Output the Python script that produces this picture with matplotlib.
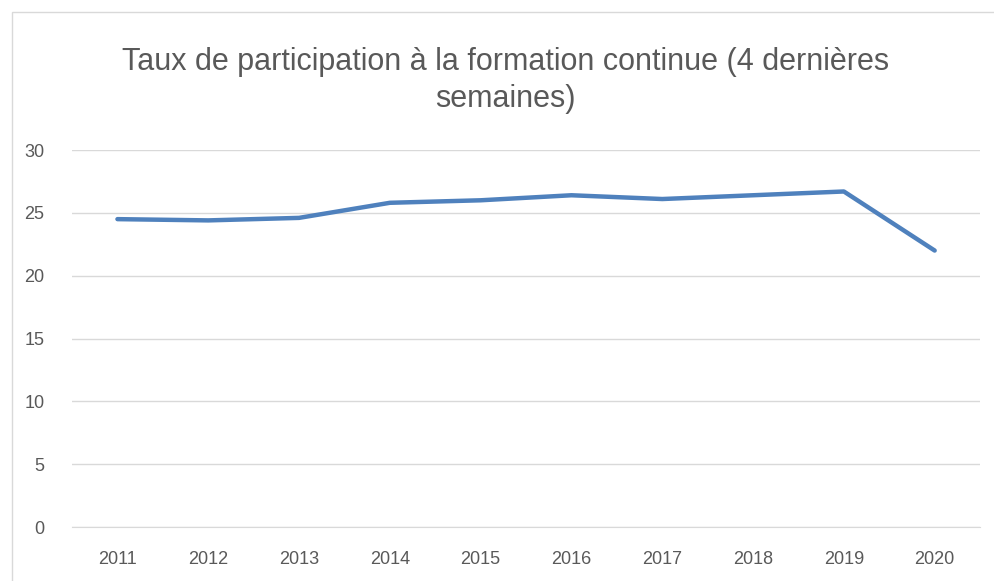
import matplotlib.pyplot as plt
from matplotlib.patches import Rectangle

years = ['2011', '2012', '2013', '2014', '2015', '2016', '2017', '2018', '2019', '2020']
taux = [24.5, 24.4, 24.6, 25.8, 26.0, 26.4, 26.1, 26.4, 26.7, 22.0]
yticks = [0, 5, 10, 15, 20, 25, 30]

plt.rcParams['font.family'] = ['Liberation Sans', 'DejaVu Sans']

fig = plt.figure(figsize=(9.95, 5.81), dpi=100)
ax = fig.add_axes([0.0724, 0.0929, 0.9126, 0.6489])

# outer chart border
fig.patches.append(Rectangle((12 / 995, -0.01), 1.0, 1 - 12 / 581 + 0.01,
                             transform=fig.transFigure, fill=False,
                             edgecolor='#d9d9d9', linewidth=1))

x = range(len(years))
ax.plot(x, taux, color='#4f81bd', linewidth=3.2, solid_capstyle='round',
        solid_joinstyle='round')

ax.set_xlim(-0.5, len(years) - 0.5)
ax.set_ylim(0, 30)
ax.set_yticks(yticks)
ax.set_xticks(list(x))
ax.set_xticklabels(years)
ax.grid(axis='y', color='#d9d9d9', linewidth=1)
ax.set_axisbelow(True)
for s in ['top', 'right', 'left']:
    ax.spines[s].set_visible(False)
ax.spines['bottom'].set_color('#d9d9d9')
ax.tick_params(length=0, colors='#595959', labelsize=13)
ax.tick_params(axis='x', pad=17)
ax.tick_params(axis='y', pad=20)

fig.text(0.508, 0.862, 'Taux de participation à la formation continue (4 dernières\nsemaines)',
         ha='center', va='center', fontsize=22, color='#595959',
         linespacing=1.3)

fig.savefig('out.png', dpi=100)
